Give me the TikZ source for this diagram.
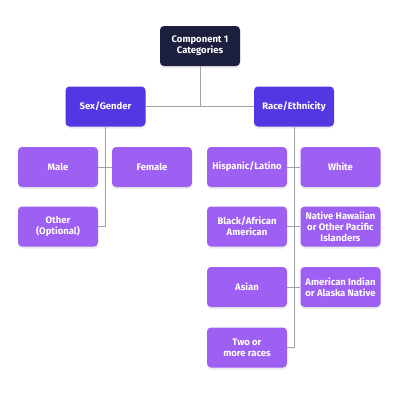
\documentclass[tikz,border=0pt]{standalone}
\usepackage{fontspec}
\setmainfont{Fira Sans}
\usetikzlibrary{shadows}
\definecolor{navy}{HTML}{1C1F3E}
\definecolor{indigo}{HTML}{5238E2}
\definecolor{leaf}{HTML}{9E5FF3}
\definecolor{conn}{HTML}{9FA0A8}
\begin{document}
\begin{tikzpicture}[x=1pt,y=-1pt,
  box/.style={rounded corners=4pt,minimum width=80pt,minimum height=40pt,inner sep=1pt,
    text=white,font=\fontsize{9.5}{11}\selectfont\bfseries,align=center,
    drop shadow={shadow xshift=0pt,shadow yshift=-2pt,opacity=0.08,fill=black}},
  topbox/.style={box,fill=navy},
  midbox/.style={box,fill=indigo},
  leafbox/.style={box,fill=leaf},
  link/.style={draw=conn,line width=0.9pt}]
\useasboundingbox[fill=white] (0,0) rectangle (400,400);
\node[topbox] (top) at (200,46) {Component 1\\Categories};
\node[midbox] (sex) at (105.5,106.5) {Sex/Gender};
\node[midbox] (race) at (294,106.5) {Race/Ethnicity};
\node[leafbox] (male) at (58,167) {Male};
\node[leafbox] (female) at (152,167) {Female};
\node[leafbox] (other) at (58,226.5) {Other\\(Optional)};
\node[leafbox] (hisp) at (247,167) {Hispanic/Latino};
\node[leafbox] (white) at (340.5,167) {White};
\node[leafbox] (black) at (247,226.5) {Black/African\\American};
\node[leafbox] (native) at (340.5,226.5) {Native Hawaiian\\or Other Pacific\\Islanders};
\node[leafbox] (asian) at (247,287) {Asian};
\node[leafbox] (amind) at (340.5,287) {American Indian\\or Alaska Native};
\node[leafbox] (two) at (247,347.5) {Two or\\more races};
\coordinate (j) at (top.south |- sex.east);
\path[link] (top.south) -- (j);
\path[link] (sex.east) -- (race.west);
\path[link] (sex.south) -- (sex.south |- other.east) -- (other.east);
\path[link] (male.east) -- (female.west);
\path[link] (race.south) -- (race.south |- two.east) -- (two.east);
\path[link] (hisp.east) -- (white.west);
\path[link] (black.east) -- (native.west);
\path[link] (asian.east) -- (amind.west);
\end{tikzpicture}
\end{document}
